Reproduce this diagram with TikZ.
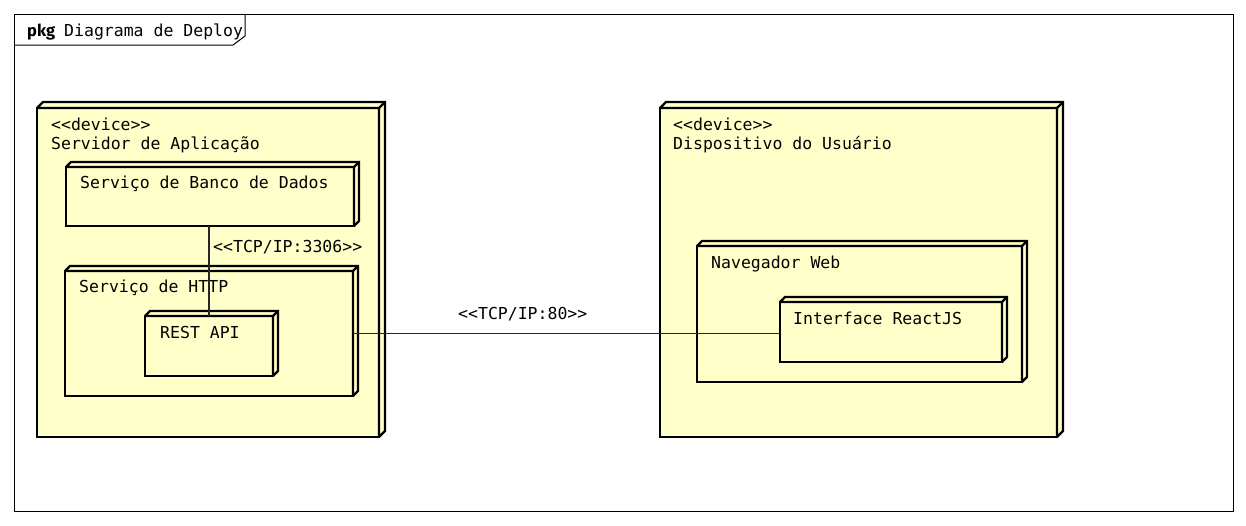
\documentclass[tikz,border=0pt]{standalone}
\usepackage{fontspec}
\newfontfamily\monofam{DejaVu Sans Mono}
\newfontfamily\tabfam{Fira Sans}
\definecolor{nodefill}{HTML}{FFFFCA}
\newcommand\nodebox[6]{%
  \node[box, minimum width={(#4-#2)*1pt}, minimum height={(#5-#3)*1pt}] (#1) at ({(#2+#4)/2},{(#3+#5)/2}) {};
  \draw[box] (#1.north west) -- ++(#6,-#6) -- ([shift={(#6,-#6)}]#1.north east) -- ([shift={(#6,-#6)}]#1.south east) -- (#1.south east) -- (#1.north east) -- cycle;
  \draw[box] (#1.north east) -- ++(#6,-#6);
}
\begin{document}
\begin{tikzpicture}[x=1pt,y=-1pt,
  box/.style={draw=black, fill=nodefill, line width=2.4pt, inner sep=0pt, outer sep=0pt, rectangle, line join=miter, miter limit=2},
  txt/.style={anchor=base west, inner sep=0pt, font=\monofam\fontsize{16.5}{20}\selectfont},
  conn/.style={line width=1.1pt, draw=black!85}]
\useasboundingbox[fill=white] (0,0) rectangle (1246,525);
% frame
\draw[line width=1pt] (14,14) rectangle (1233,511);
\draw[line width=1pt] (14,45) -- (233,45) -- (245,36) -- (245,14);
\node[anchor=base west, inner sep=0pt, font=\tabfam\bfseries\fontsize{16.5}{20}\selectfont] (pkg) at (27,36) {pkg};
\node[txt] (title) at (64,36) {Diagrama de Deploy};
% left device
\nodebox{srv}{37}{108}{379}{437}{6}
\node[txt] (srvS) at (51,130) {<<device>>};
\node[txt] (srvN) at (51,149) {Servidor de Aplicação};
\nodebox{db}{66}{167}{354}{226}{5}
\node[txt] (dbT) at (80,188) {Serviço de Banco de Dados};
\nodebox{http}{65}{271}{353}{396}{5}
\node[txt] (httpT) at (79,292) {Serviço de HTTP};
\nodebox{rest}{145}{316}{273}{376}{5}
\node[txt] (restT) at (160,338) {REST API};
% right device
\nodebox{dev}{660}{108}{1057}{437}{6}
\node[txt] (devS) at (673,130) {<<device>>};
\node[txt] (devN) at (673,149) {Dispositivo do Usuário};
\nodebox{nav}{697}{246}{1022}{382}{5}
\node[txt] (navT) at (711,268) {Navegador Web};
\nodebox{iface}{780}{302}{1002}{362}{5}
\node[txt] (ifaceT) at (793,324) {Interface ReactJS};
% connectors
\draw[conn] (db.south -| rest.north) -- (rest.north);
\node[txt] (l3306) at (213,252) {<<TCP/IP:3306>>};
\draw[conn] (http.east) -- (http.east -| iface.west);
\node[txt] (l80) at (458,319) {<<TCP/IP:80>>};
\end{tikzpicture}
\end{document}
